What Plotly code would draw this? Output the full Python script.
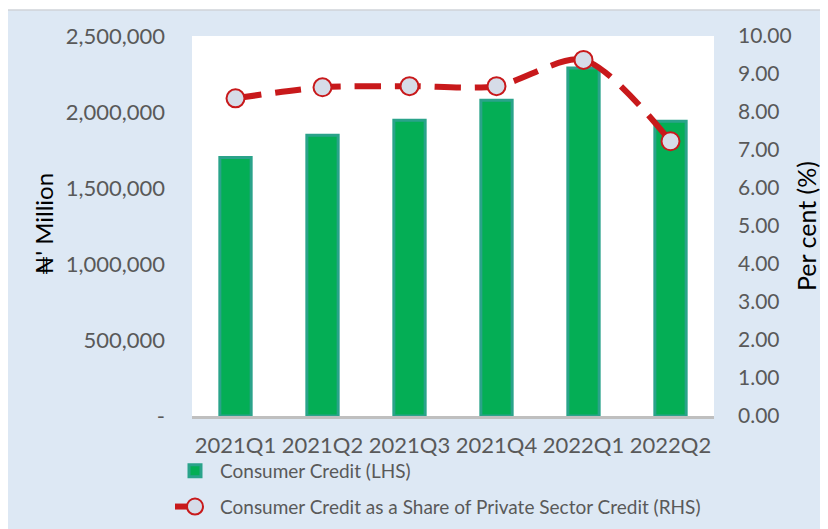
import plotly.graph_objects as go

quarters = ["2021Q1", "2021Q2", "2021Q3", "2021Q4", "2022Q1", "2022Q2"]
consumer_credit = [1701000, 1847000, 1946000, 2078000, 2289000, 1939000]
share_pct = [8.36, 8.65, 8.68, 8.68, 9.37, 7.23]
left_ticks = [0, 500000, 1000000, 1500000, 2000000, 2500000]
left_tick_text = ["-", "500,000", "1,000,000", "1,500,000", "2,000,000", "2,500,000"]
right_ticks = [0, 1, 2, 3, 4, 5, 6, 7, 8, 9, 10]
right_tick_text = ["%.2f" % v for v in right_ticks]

FONT = "Lato"
GRAY = "#595959"
BG = "#dde8f4"

fig = go.Figure()
fig.add_trace(go.Bar(
    x=quarters, y=consumer_credit, name="Consumer Credit (LHS)",
    marker=dict(color="#04ae55", line=dict(color="#2aa38a", width=3)),
    width=0.36, yaxis="y", legendgroup="a",
))
fig.add_trace(go.Scatter(
    x=quarters, y=share_pct, name="Consumer Credit as a Share of Private Sector Credit (RHS)",
    mode="lines+markers", yaxis="y2", legendgroup="b",
    line=dict(color="#c8191b", width=6, dash="26px,14px", shape="spline", smoothing=0.8),
    marker=dict(symbol="circle", size=18, color="#d6dce8", line=dict(color="#c8191b", width=2)),
))

# page is offset by the 8px body margin, so work in page coordinates minus 8
OFF = 8
W, H = 820, 521
L, R, T, B = 192 - OFF, 714 - OFF, 36 - OFF, 416 - OFF
def px(xp):
    return (xp - OFF - L) / (R - L)
def py(yp):
    return (B - (yp - OFF)) / (B - T)
def cx(xp):
    return (xp - OFF) / W
def cy(yp):
    return 1 - (yp - OFF) / H

fig.update_layout(
    width=W, height=H,
    margin=dict(l=L, r=W - R, t=T, b=H - B, autoexpand=False),
    paper_bgcolor=BG, plot_bgcolor="white",
    font=dict(family=FONT, color=GRAY, size=22),
    showlegend=True,
    legend=dict(
        xref="container", yref="container",
        x=cx(170), y=cy(452), xanchor="left", yanchor="top",
        bgcolor="rgba(0,0,0,0)", font=dict(size=19, color=GRAY),
        itemwidth=40, tracegroupgap=8,
    ),
    xaxis=dict(
        type="category", showgrid=False, showline=True, linecolor="#bfbfbf", linewidth=3,
        ticks="", tickfont=dict(size=22, color=GRAY), ticklabelstandoff=8,
        range=[-0.5, 5.5],
    ),
    yaxis=dict(
        range=[0, 2500000], tickvals=left_ticks, ticktext=left_tick_text,
        showgrid=False, zeroline=False, showline=False, ticks="",
        tickfont=dict(size=22, color=GRAY), ticklabelstandoff=26,
    ),
    yaxis2=dict(
        range=[0, 10], tickvals=right_ticks, ticktext=right_tick_text,
        overlaying="y", side="right", showgrid=False, zeroline=False, showline=False,
        ticks="", tickfont=dict(size=21, color=GRAY), ticklabelstandoff=23,
    ),
    shapes=[
        dict(type="rect", xref="paper", yref="paper", x0=px(0), x1=px(840), y0=py(10), y1=py(0),
             fillcolor="white", line=dict(width=0), layer="below"),
        dict(type="line", xref="paper", yref="paper", x0=px(6), x1=px(840), y0=py(10), y1=py(10),
             line=dict(color="#cfd3d8", width=1.5), layer="below"),
    ],
    annotations=[
        dict(text="₦' Million", xref="paper", yref="paper", x=px(43), y=py(224),
             xanchor="center", yanchor="middle",
             textangle=-90, showarrow=False, font=dict(size=24, color="black", family=FONT)),
        dict(text="Per cent (%)", xref="paper", yref="paper", x=px(806), y=py(226),
             xanchor="center", yanchor="middle",
             textangle=-90, showarrow=False, font=dict(size=25, color="black", family=FONT)),
    ],
)

fig.write_html("out.html")
